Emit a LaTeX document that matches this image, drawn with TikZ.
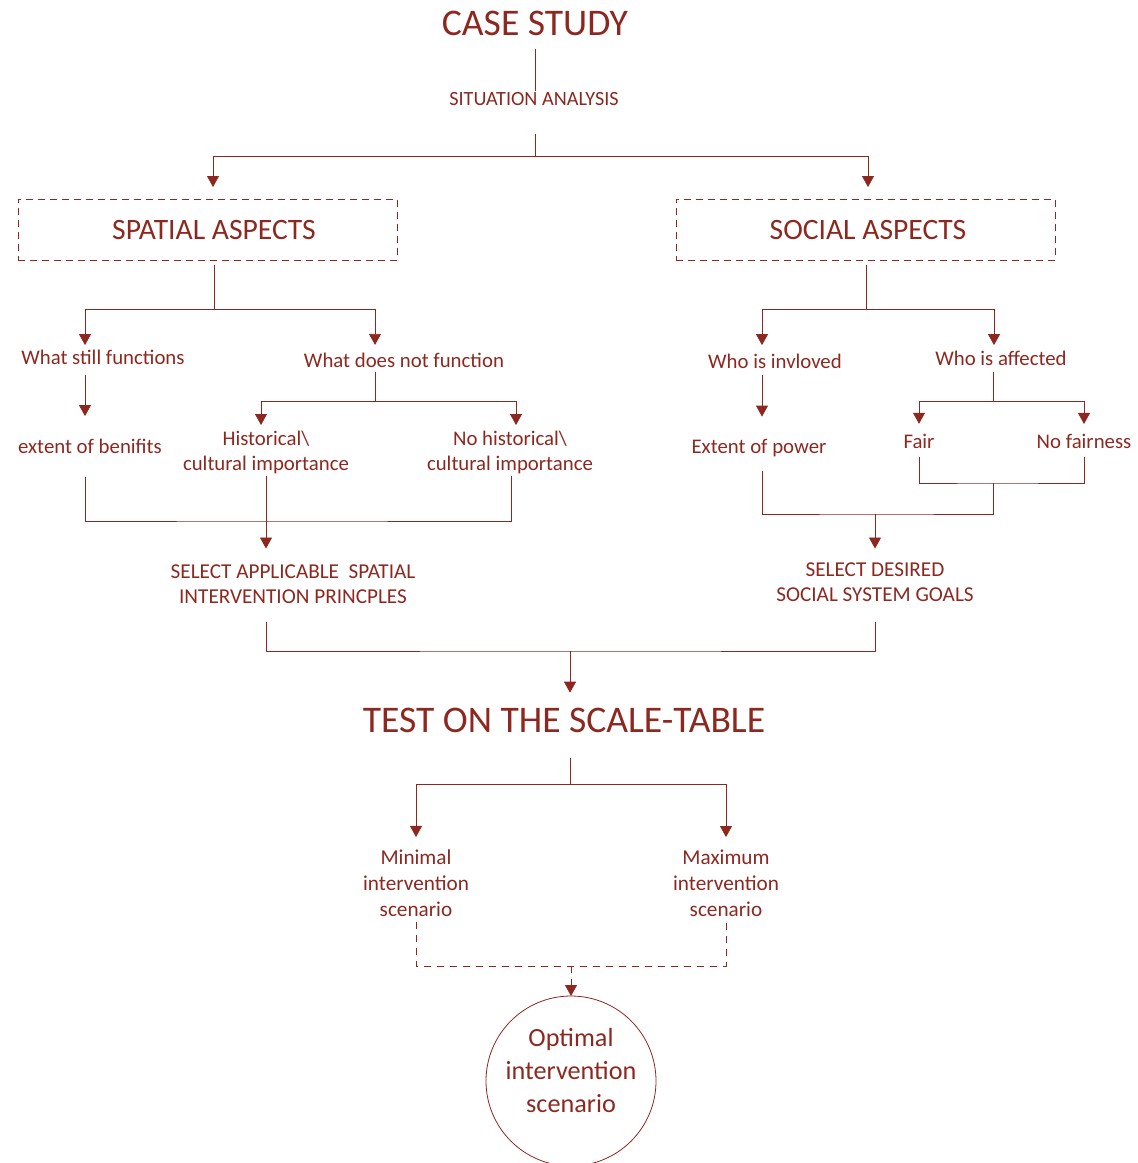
\documentclass[tikz,border=0pt]{standalone}
\usepackage{fontspec}
\setmainfont{Carlito}
\usepackage{tikz}
\usetikzlibrary{
  arrows.meta,
  positioning,
}
\definecolor{brick}{RGB}{140,40,32}
\tikzset{
  font=\fontsize{10.4}{12.5}\selectfont,
  line width=0.75pt,
  >={Triangle[length=5.5pt,width=6pt]},
  every node/.style={
    inner sep=0pt,
    outer sep=0pt
  },
  my title/.style={
    font=\fontsize{18.8}{22}\selectfont
  },
  my caps/.style={
    font=\fontsize{10.1}{12.5}\selectfont,
    align=center
  },
  my select/.style={
    font=\fontsize{10.6}{12.5}\selectfont,
    align=center
  },
  my label/.style={
    font=\fontsize{10.4}{12.5}\selectfont,
    align=center
  },
  my scenario/.style={
    font=\fontsize{10.6}{13}\selectfont,
    align=center
  },
  my aspect/.style={
    draw,
    dash pattern=on 3.5pt off 2.5pt,
    minimum width=189.5pt,
    minimum height=30.5pt,
    font=\fontsize{14.8}{18}\selectfont
  },
  my circle/.style={
    draw,
    circle,
    minimum size=85pt
  },
  my circle text/.style={
    font=\fontsize{13.1}{16.5}\selectfont,
    align=center,
    yshift=5.5pt
  },
  my dashed/.style={
    dash pattern=on 3.5pt off 3pt
  }
}
\begin{document}
\begin{tikzpicture}[x=0.5pt,y=-0.5pt,color=brick]
\useasboundingbox (0,0) rectangle (1137,1163);
% top
\node[my title] (case) at (535,23) {CASE STUDY};
\node[my caps] (sit) at (534,99) {SITUATION ANALYSIS};
\node[my aspect] (spatial) at (207.5,229.5) {\hspace*{6.5pt}SPATIAL ASPECTS};
\node[my aspect] (social) at (865.5,229.5) {\hspace*{2.5pt}SOCIAL ASPECTS};
\coordinate (top split) at (535,156);
\draw[shorten <=7pt,shorten >=0.5pt] (case.south) -- (case.south |- sit.north);
\draw[shorten <=14pt] (sit.south -| top split) -- (top split);
\draw[->,shorten >=6pt] (top split) -| ([xshift=2.75pt]spatial.north);
\draw[->,shorten >=6pt] (top split) -| ([xshift=1.25pt]social.north);

% spatial branch
\coordinate (spatial split) at (214,309);
\draw[shorten <=2.5pt] (spatial.south -| spatial split) -- (spatial split);
\node[my label] (still) at (103,357) {What still functions};
\node[my label] (notfn) at (404,360) {What does not function};
\draw[->,shorten >=2.3pt] (spatial split) -| ([xshift=-9pt]still.north);
\draw[->,shorten >=3.9pt] (spatial split) -| ([xshift=-14.5pt]notfn.north);
\node[my label] (benefits) at (90,446) {extent of benifits};
\draw[->,shorten <=5.3pt,shorten >=11.3pt]
  ([xshift=-9pt]still.south) -- ([xshift=-9pt]still.south |- benefits.north);
\coordinate (notfn split) at (375,401);
\draw[shorten <=2.3pt] ([xshift=-14.5pt]notfn.south) -- (notfn split);
\node[my label] (hist) at (266,452) {Historical\textbackslash\\cultural importance};
\node[my label] (nohist) at (510,452) {No historical\textbackslash\\cultural importance};
\draw[->,shorten >=2.8pt] (notfn split) -| ([xshift=-2.5pt]hist.north);
\draw[->,shorten >=2.8pt] (notfn split) -| ([xshift=3pt]nohist.north);
\node[my select] (selspatial) at (293,584)
  {SELECT APPLICABLE~ SPATIAL\\INTERVENTION PRINCPLES};
\coordinate (spatial join) at (266,521);
\draw[shorten <=11.8pt,shorten >=1.3pt]
  ([xshift=-2.5pt]benefits.south) |- (spatial join) -| ([xshift=0.5pt]nohist.south);
\draw[->,shorten <=1.3pt,shorten >=8pt] (hist.south) -- (hist.south |- selspatial.north);

% social branch
\coordinate (social split) at (866,309);
\draw[shorten <=2.5pt] (social.south -| social split) -- (social split);
\node[my label] (involved) at (775,361) {Who is invloved};
\node[my label] (affected) at (1001,358) {Who is affected};
\draw[->,shorten >=4.3pt] (social split) -| ([xshift=-6.5pt]involved.north);
\draw[->,shorten >=2.8pt] (social split) -| ([xshift=-3.5pt]affected.north);
\node[my label] (power) at (759,448) {Extent of power};
\draw[->,shorten <=3.3pt,shorten >=11.3pt]
  ([xshift=-6.5pt]involved.south) -- ([xshift=-6.5pt]involved.south |- power.north);
\coordinate (affected split) at (993,401);
\draw[shorten <=3.3pt] ([xshift=-4pt]affected.south) -- (affected split);
\node[my label] (fair) at (919,441) {Fair};
\node[my label] (nofair) at (1084,441) {No fairness};
\draw[->,shorten >=5pt] (affected split) -| (fair.north);
\draw[->,shorten >=4.9pt] (affected split) -| (nofair.north);
\coordinate (fair join) at (993,483);
\draw[shorten <=4.5pt,shorten >=4.4pt] (fair.south) |- (fair join) -| (nofair.south);
\coordinate (social join) at (875,514);
\draw[shorten <=7.3pt] ([xshift=1.5pt]power.south) |- (social join) -| (fair join);
\node[my select] (selsocial) at (875,582) {SELECT DESIRED\\SOCIAL SYSTEM GOALS};
\draw[->,shorten >=7pt] (social join) -- (selsocial.north);

% test and scenarios
\coordinate (test join) at (570,651);
\draw[shorten <=9.5pt,shorten >=10.5pt]
  ([xshift=-13.5pt]selspatial.south) |- (test join) -| (selsocial.south);
\node[my title] (test) at (564,720) {TEST ON THE SCALE-TABLE};
\draw[->,shorten >=7.5pt] (test join) -- (test join |- test.north);
\coordinate (test split) at (570,784);
\draw[shorten <=13pt] (test split |- test.south) -- (test split);
\node[my scenario] (minimal) at (416,883) {Minimal\\intervention\\scenario};
\node[my scenario] (maximum) at (726,883) {Maximum\\intervention\\scenario};
\draw[->,shorten >=6.3pt] (test split) -| (minimal.north);
\draw[->,shorten >=6.3pt] (test split) -| (maximum.north);
\coordinate (optimal join) at (571,966);
\draw[my dashed,shorten <=2.8pt,shorten >=2.8pt]
  (minimal.south) |- (optimal join) -| (maximum.south);
\node[my circle,label={[my circle text]center:Optimal\\intervention\\scenario}]
  (optimal) at (571,1081) {};
\draw[my dashed,->] (optimal join) -- (optimal);
\end{tikzpicture}
\end{document}
